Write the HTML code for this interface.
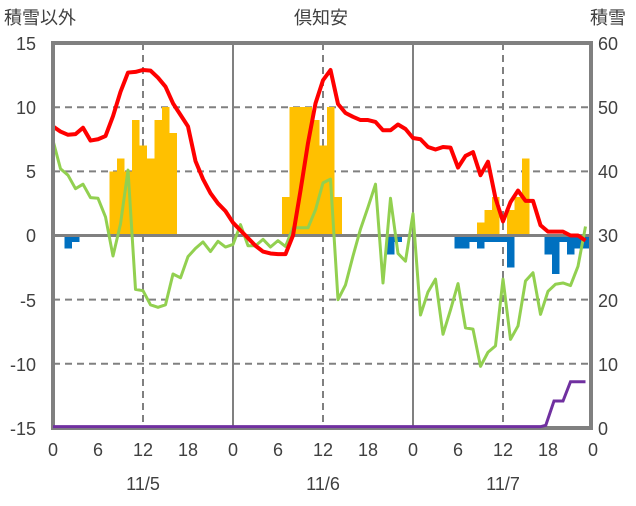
<!DOCTYPE html>
<html><head><meta charset="utf-8"><style>
html,body{margin:0;padding:0;background:#fff;}
svg text{font-family:"Liberation Sans","Noto Sans CJK JP",sans-serif;fill:#404040;}
</style></head><body>
<svg width="636" height="501" viewBox="0 0 636 501" xmlns="http://www.w3.org/2000/svg">
<rect width="636" height="501" fill="#fff"/>
<g stroke="#808080" stroke-width="2" stroke-dasharray="7,5">
<line x1="53" y1="107.2" x2="591" y2="107.2"/>
<line x1="53" y1="171.35" x2="591" y2="171.35"/>
<line x1="53" y1="299.65" x2="591" y2="299.65"/>
<line x1="53" y1="363.8" x2="591" y2="363.8"/>
<line x1="143" y1="43" x2="143" y2="428"/>
<line x1="323" y1="43" x2="323" y2="428"/>
<line x1="503" y1="43" x2="503" y2="428"/>
</g>
<g stroke="#808080" stroke-width="2">
<line x1="233" y1="43" x2="233" y2="428"/>
<line x1="413" y1="43" x2="413" y2="428"/>
</g>
<g transform="translate(53,235.5) scale(7.5,-12.83)">
<g fill="#FFC000" shape-rendering="crispEdges">
<rect x="7.5" y="0" width="1.05" height="5"/>
<rect x="8.5" y="0" width="1.05" height="6"/>
<rect x="9.5" y="0" width="1.05" height="5"/>
<rect x="10.5" y="0" width="1.05" height="9"/>
<rect x="11.5" y="0" width="1.05" height="7"/>
<rect x="12.5" y="0" width="1.05" height="6"/>
<rect x="13.5" y="0" width="1.05" height="9"/>
<rect x="14.5" y="0" width="1.05" height="10"/>
<rect x="15.5" y="0" width="1" height="8"/>
<rect x="30.5" y="0" width="1.05" height="3"/>
<rect x="31.5" y="0" width="1.05" height="10"/>
<rect x="32.5" y="0" width="1.05" height="10"/>
<rect x="33.5" y="0" width="1.05" height="10"/>
<rect x="34.5" y="0" width="1.05" height="9"/>
<rect x="35.5" y="0" width="1.05" height="7"/>
<rect x="36.5" y="0" width="1.05" height="10"/>
<rect x="37.5" y="0" width="1" height="3"/>
<rect x="56.5" y="0" width="1.05" height="1"/>
<rect x="57.5" y="0" width="1.05" height="2"/>
<rect x="58.5" y="0" width="1" height="3"/>
<rect x="60.5" y="0" width="1.05" height="2"/>
<rect x="61.5" y="0" width="1.05" height="3"/>
<rect x="62.5" y="0" width="1" height="6"/>
</g>
<g fill="#0070C0" shape-rendering="crispEdges">
<rect x="1.5" y="-1" width="1.05" height="1"/>
<rect x="2.5" y="-0.5" width="1" height="0.5"/>
<rect x="44.5" y="-1.5" width="1.05" height="1.5"/>
<rect x="45.5" y="-0.5" width="1" height="0.5"/>
<rect x="53.5" y="-1" width="2.05" height="1"/>
<rect x="55.5" y="-0.5" width="1.05" height="0.5"/>
<rect x="56.5" y="-1" width="1.05" height="1"/>
<rect x="57.5" y="-0.5" width="3.05" height="0.5"/>
<rect x="60.5" y="-2.5" width="1" height="2.5"/>
<rect x="65.5" y="-1.5" width="1.05" height="1.5"/>
<rect x="66.5" y="-3" width="1.05" height="3"/>
<rect x="67.5" y="-0.5" width="1.05" height="0.5"/>
<rect x="68.5" y="-1.5" width="1.05" height="1.5"/>
<rect x="69.5" y="-1" width="2" height="1"/>
</g>
<line x1="0" y1="0" x2="72" y2="0" stroke="#808080" stroke-width="3" vector-effect="non-scaling-stroke"/>
<polyline fill="none" stroke="#92D050" stroke-width="3" stroke-linejoin="round" vector-effect="non-scaling-stroke" points="0,7.4 1,5.2 2,4.7 3,3.65 4,4 5,2.95 6,2.9 7,1.45 8,-1.6 9,0.9 10,5.1 11,-4.2 12,-4.3 13,-5.4 14,-5.6 15,-5.4 16,-3 17,-3.3 18,-1.65 19,-1 20,-0.5 21,-1.25 22,-0.45 23,-0.9 24,-0.7 25,0.85 26,-0.8 27,-0.8 28,-0.3 29,-0.9 30,-0.4 31,-0.85 32,0.6 33,0.6 34,0.6 35,2 36,4.1 37,4.4 38,-5 39,-3.85 40,-1.6 41,0.5 42,2.2 43,4 44,-3.7 45,2.9 46,-1.4 47,-2 48,1.7 49,-6.2 50,-4.4 51,-3.4 52,-7.7 53,-5.8 54,-3.75 55,-7.2 56,-7.3 57,-10.2 58,-9.1 59,-8.6 60,-3.4 61,-8.1 62,-7.05 63,-3.55 64,-2.9 65,-6.15 66,-4.35 67,-3.8 68,-3.7 69,-3.9 70,-2.4 71,0.7"/>
<polyline fill="none" stroke="#FF0000" stroke-width="4" stroke-linejoin="round" vector-effect="non-scaling-stroke" points="0,8.5 1,8.1 2,7.85 3,7.9 4,8.4 5,7.4 6,7.5 7,7.75 8,9.3 9,11.2 10,12.7 11,12.75 12,12.9 13,12.85 14,12.3 15,11.6 16,10.3 17,9.4 18,8.5 19,5.8 20,4.4 21,3.3 22,2.5 23,1.9 24,1 25,0.4 26,-0.2 27,-0.8 28,-1.25 29,-1.4 30,-1.45 31,-1.45 32,0 33,3.5 34,7.2 35,10.3 36,12.1 37,12.9 38,10.25 39,9.55 40,9.25 41,9 42,9 43,8.85 44,8.2 45,8.2 46,8.65 47,8.3 48,7.6 49,7.5 50,6.9 51,6.7 52,6.9 53,6.85 54,5.3 55,6.2 56,6.5 57,4.7 58,5.75 59,2.9 60,1.1 61,2.6 62,3.5 63,2.7 64,2.7 65,0.8 66,0.3 67,0.3 68,0.3 69,0 70,0 71,-0.4"/>
</g>
<rect x="53" y="43" width="538" height="385" fill="none" stroke="#808080" stroke-width="4"/>
<g transform="translate(53,235.5) scale(7.5,-12.83)">
<polyline fill="none" stroke="#7030A0" stroke-width="3" vector-effect="non-scaling-stroke" points="0,-14.9 65,-14.9 65.7,-14.8 66.8,-12.9 68,-12.9 69,-11.4 71,-11.4"/>
</g>
<g font-size="18" text-anchor="end">
<text x="36" y="50">15</text>
<text x="36" y="114">10</text>
<text x="36" y="178">5</text>
<text x="36" y="242">0</text>
<text x="36" y="307">-5</text>
<text x="36" y="371">-10</text>
<text x="36" y="435">-15</text>
</g>
<g font-size="18" text-anchor="start">
<text x="598" y="50">60</text>
<text x="598" y="114">50</text>
<text x="598" y="178">40</text>
<text x="598" y="242">30</text>
<text x="598" y="307">20</text>
<text x="598" y="371">10</text>
<text x="598" y="435">0</text>
</g>
<g font-size="18" text-anchor="middle">
<text x="53" y="456">0</text><text x="98" y="456">6</text><text x="143" y="456">12</text><text x="188" y="456">18</text>
<text x="233" y="456">0</text><text x="278" y="456">6</text><text x="323" y="456">12</text><text x="368" y="456">18</text>
<text x="413" y="456">0</text><text x="458" y="456">6</text><text x="503" y="456">12</text><text x="548" y="456">18</text>
<text x="593" y="456">0</text>
<text x="143" y="490">11/5</text><text x="323" y="490">11/6</text><text x="503" y="490">11/7</text>
<text x="321" y="24">倶知安</text>
</g>
<text x="4" y="24" font-size="18">積雪以外</text>
<text x="590" y="24" font-size="18">積雪</text>
</svg>
</body></html>
